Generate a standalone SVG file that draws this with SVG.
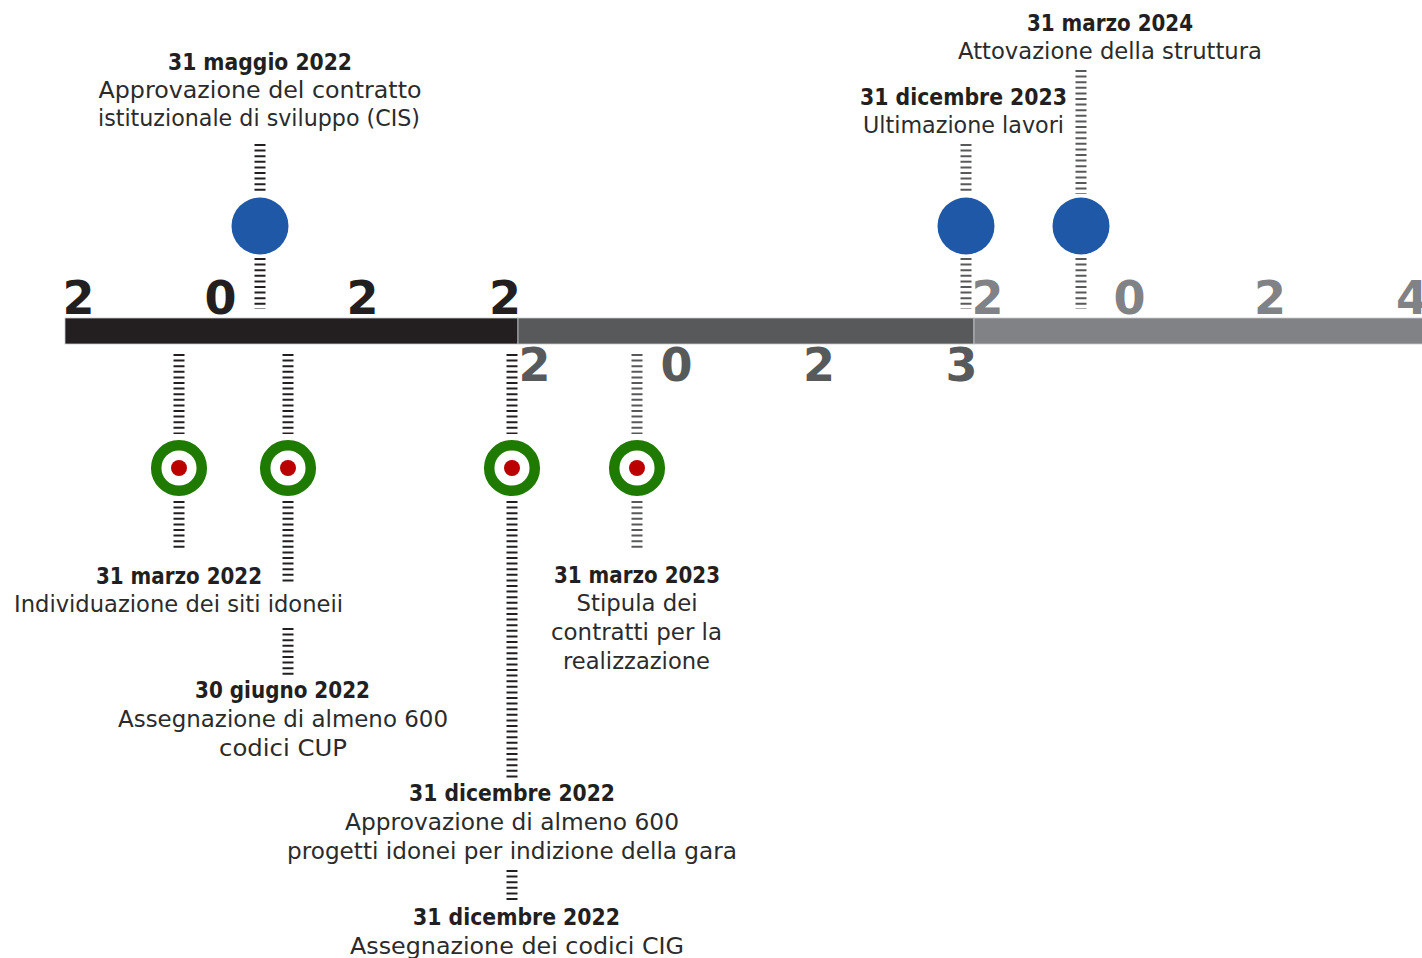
<svg xmlns="http://www.w3.org/2000/svg" width="1422" height="958" viewBox="0 0 1422 958">
  <style>
    .yr { font-family: "DejaVu Sans", "Liberation Sans", sans-serif; font-weight: bold; font-size: 46px; text-anchor: middle; }
    .y22 { fill: #231f20; }
    .y23 { fill: #58595b; }
    .y24 { fill: #808285; }
    .date { font-family: "DejaVu Sans", "Liberation Sans", sans-serif; font-weight: bold; font-size: 23px; fill: #231f20; text-anchor: middle; }
    .desc { font-family: "DejaVu Sans", "Liberation Sans", sans-serif; font-size: 22.5px; fill: #2b2b2b; text-anchor: middle; }
    .tick { stroke-width: 11; stroke-dasharray: 2 3.6; fill: none; }
    .t22 { stroke: #231f20; }
    .t23 { stroke: #58595b; }
    .blue { fill: #2058a8; }
    .ring { fill: #ffffff; stroke: #1e7b00; stroke-width: 10.5; }
    .dot { fill: #bb0000; }
  </style>

  <rect width="1422" height="958" fill="#ffffff"/>

  <!-- time axis: one segment per year -->
  <g id="axis">
    <rect x="65" y="318" width="453" height="26" fill="#231f20" stroke="#c7c8ca" stroke-width="0.8"/>
    <rect x="518" y="318" width="456" height="26" fill="#58595b" stroke="#c7c8ca" stroke-width="0.8"/>
    <rect x="974" y="318" width="460" height="26" fill="#808285" stroke="#c7c8ca" stroke-width="0.8"/>
    <text class="yr y22" x="78.5" y="314">2</text>
    <text class="yr y22" x="220.5" y="314">0</text>
    <text class="yr y22" x="362.5" y="314">2</text>
    <text class="yr y22" x="505" y="314">2</text>
    <text class="yr y23" x="534.5" y="381">2</text>
    <text class="yr y23" x="676.5" y="381">0</text>
    <text class="yr y23" x="819" y="381">2</text>
    <text class="yr y23" x="961.5" y="381">3</text>
    <text class="yr y24" x="987.5" y="314">2</text>
    <text class="yr y24" x="1129.5" y="314">0</text>
    <text class="yr y24" x="1270" y="314">2</text>
    <text class="yr y24" x="1412" y="314">4</text>
  </g>

  <!-- dotted leader lines -->
  <g id="connectors">
    <line class="tick t22" x1="260" y1="144" x2="260" y2="194"/>
    <line class="tick t22" x1="260" y1="258" x2="260" y2="309"/>
    <line class="tick t23" x1="966" y1="144" x2="966" y2="194"/>
    <line class="tick t23" x1="966" y1="258" x2="966" y2="309"/>
    <line class="tick t23" x1="1081" y1="70" x2="1081" y2="194"/>
    <line class="tick t23" x1="1081" y1="258" x2="1081" y2="309"/>

    <line class="tick t22" x1="179" y1="354" x2="179" y2="434"/>
    <line class="tick t22" x1="179" y1="501" x2="179" y2="550"/>
    <line class="tick t22" x1="288" y1="354" x2="288" y2="434"/>
    <line class="tick t22" x1="288" y1="501" x2="288" y2="583"/>
    <line class="tick t22" x1="288" y1="628" x2="288" y2="678"/>
    <line class="tick t22" x1="512" y1="354" x2="512" y2="434"/>
    <line class="tick t22" x1="512" y1="501" x2="512" y2="780"/>
    <line class="tick t22" x1="512" y1="870" x2="512" y2="902"/>
    <line class="tick t23" x1="637" y1="354" x2="637" y2="434"/>
    <line class="tick t23" x1="637" y1="501" x2="637" y2="550"/>
  </g>

  <!-- milestones above the axis -->
  <g id="m-2022-05">
    <circle class="blue" cx="260" cy="226" r="28.5"/>
    <text class="date" x="260" y="70" textLength="184" lengthAdjust="spacingAndGlyphs">31 maggio 2022</text>
    <text class="desc" x="260" y="98" textLength="323" lengthAdjust="spacingAndGlyphs">Approvazione del contratto</text>
    <text class="desc" x="259" y="126" textLength="322" lengthAdjust="spacingAndGlyphs">istituzionale di sviluppo (CIS)</text>
  </g>

  <g id="m-2023-12">
    <circle class="blue" cx="966" cy="226" r="28.5"/>
    <text class="date" x="963.5" y="105" textLength="207" lengthAdjust="spacingAndGlyphs">31 dicembre 2023</text>
    <text class="desc" x="963.5" y="133" textLength="201" lengthAdjust="spacingAndGlyphs">Ultimazione lavori</text>
  </g>

  <g id="m-2024-03">
    <circle class="blue" cx="1081" cy="226" r="28.5"/>
    <text class="date" x="1110" y="31" textLength="166" lengthAdjust="spacingAndGlyphs">31 marzo 2024</text>
    <text class="desc" x="1110" y="59" textLength="304" lengthAdjust="spacingAndGlyphs">Attovazione della struttura</text>
  </g>

  <!-- milestones below the axis -->
  <g id="m-2022-03">
    <circle class="ring" cx="179" cy="468" r="22.8"/>
    <circle class="dot" cx="179" cy="468" r="8"/>
    <text class="date" x="179" y="584" textLength="166" lengthAdjust="spacingAndGlyphs">31 marzo 2022</text>
    <text class="desc" x="178.5" y="612" textLength="329" lengthAdjust="spacingAndGlyphs">Individuazione dei siti idoneii</text>
  </g>

  <g id="m-2022-06">
    <circle class="ring" cx="288" cy="468" r="22.8"/>
    <circle class="dot" cx="288" cy="468" r="8"/>
    <text class="date" x="282.5" y="698" textLength="175" lengthAdjust="spacingAndGlyphs">30 giugno 2022</text>
    <text class="desc" x="283" y="727" textLength="330" lengthAdjust="spacingAndGlyphs">Assegnazione di almeno 600</text>
    <text class="desc" x="283" y="756" textLength="128" lengthAdjust="spacingAndGlyphs">codici CUP</text>
  </g>

  <g id="m-2022-12">
    <circle class="ring" cx="512" cy="468" r="22.8"/>
    <circle class="dot" cx="512" cy="468" r="8"/>
    <text class="date" x="512" y="801" textLength="206" lengthAdjust="spacingAndGlyphs">31 dicembre 2022</text>
    <text class="desc" x="512" y="830" textLength="334" lengthAdjust="spacingAndGlyphs">Approvazione di almeno 600</text>
    <text class="desc" x="512" y="859" textLength="450" lengthAdjust="spacingAndGlyphs">progetti idonei per indizione della gara</text>
    <text class="date" x="516.5" y="925" textLength="207" lengthAdjust="spacingAndGlyphs">31 dicembre 2022</text>
    <text class="desc" x="517" y="954" textLength="334" lengthAdjust="spacingAndGlyphs">Assegnazione dei codici CIG</text>
  </g>

  <g id="m-2023-03">
    <circle class="ring" cx="637" cy="468" r="22.8"/>
    <circle class="dot" cx="637" cy="468" r="8"/>
    <text class="date" x="637" y="583" textLength="166" lengthAdjust="spacingAndGlyphs">31 marzo 2023</text>
    <text class="desc" x="637" y="611" textLength="121" lengthAdjust="spacingAndGlyphs">Stipula dei</text>
    <text class="desc" x="636.5" y="640" textLength="171" lengthAdjust="spacingAndGlyphs">contratti per la</text>
    <text class="desc" x="636.5" y="669" textLength="147" lengthAdjust="spacingAndGlyphs">realizzazione</text>
  </g>
</svg>
